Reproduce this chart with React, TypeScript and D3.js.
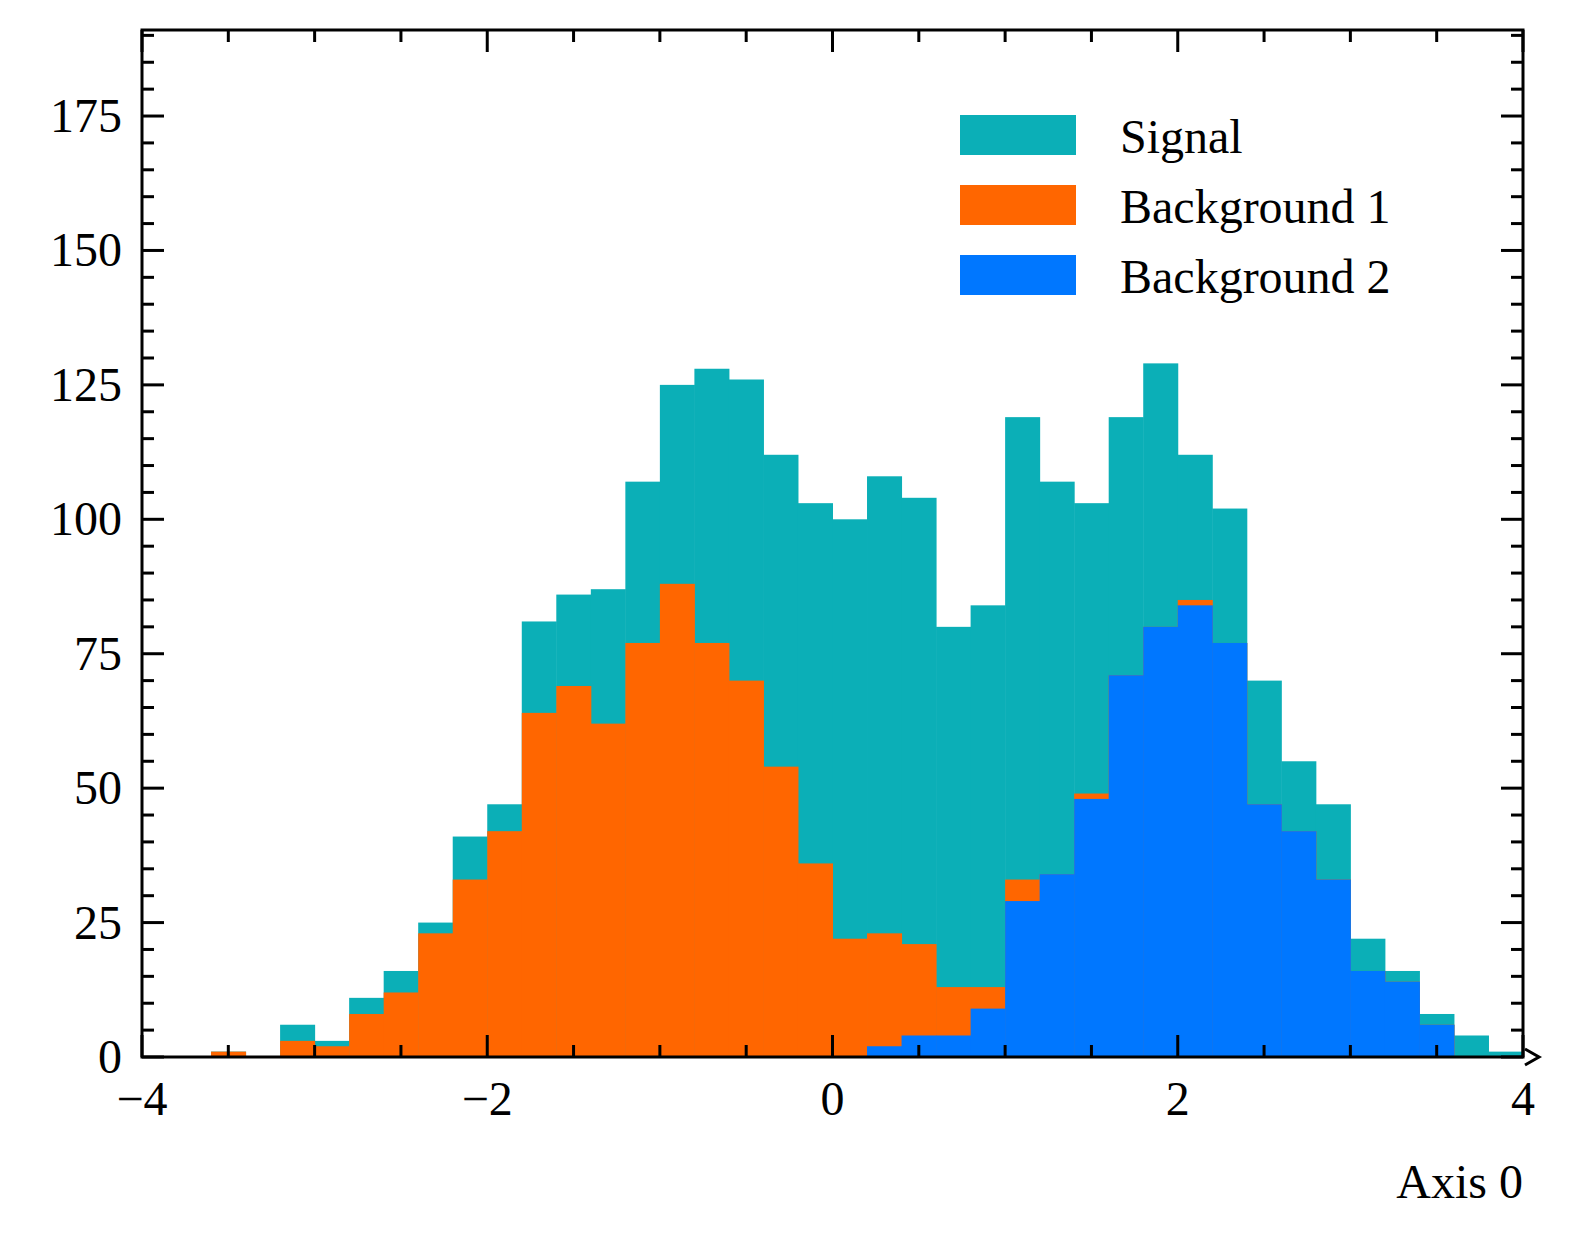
import * as React from 'react';
import * as d3 from 'd3';

// bin edges -4..4, width 0.2
const binStart = -4;
const binWidth = 0.2;
// stacked tops
const blueTop = [0,0,0,0,0,0,0,0,0,0,0,0,0,0,0,0,0,0,0,0,0,2,4,4,9,29,34,48,71,80,84,77,47,42,33,16,14,6,0,0];
const orangeTop = [0,0,1,0,3,2,8,12,23,33,42,64,69,62,77,88,77,70,54,36,22,23,21,13,13,33,34,49,71,80,85,77,47,42,33,16,14,6,0,0];
const totalTop = [0,0,1,0,6,3,11,16,25,41,47,81,86,87,107,125,128,126,112,103,100,108,104,80,84,119,107,103,119,129,112,102,70,55,47,22,16,8,4,1];

const seriesNames = ['Signal', 'Background 1', 'Background 2'];
const seriesColors = ['#0bafb7', '#ff6600', '#0077ff'];
const xTicks = [-4, -2, 0, 2, 4];
const yTicks = [0, 25, 50, 75, 100, 125, 150, 175];

const App: React.FC = () => {
  const width = 1584, height = 1257;
  const left = 142, right = 1523, top = 30, bottom = 1057;
  const x = d3.scaleLinear().domain([-4, 4]).range([left, right]);
  const y = d3.scaleLinear().domain([0, 191]).range([bottom, top]);
  const font = '"Liberation Serif", "Times New Roman", serif';
  const layers = [totalTop, orangeTop, blueTop];
  const xMinor = d3.range(-4, 4.001, 0.5);
  const yMinor = d3.range(0, 191, 5);

  return (
    <svg width={width} height={height} style={{ position: 'absolute', left: 0, top: 0 }} fontFamily={font}>
      {layers.map((vals, s) => (
        <g key={s} fill={seriesColors[s]}>
          {vals.map((v, i) => v > 0 && (
            <rect key={i}
              x={x(binStart + i * binWidth)}
              width={x(binStart + (i + 1) * binWidth) - x(binStart + i * binWidth) + 0.5}
              y={y(v)} height={y(0) - y(v)} />
          ))}
        </g>
      ))}
      <g stroke="#000" strokeWidth={3}>
        {xMinor.map((t, i) => {
          const major = xTicks.includes(t);
          const L = major ? 22 : 12;
          return <g key={i}>
            <line x1={x(t)} x2={x(t)} y1={bottom} y2={bottom - L} />
            <line x1={x(t)} x2={x(t)} y1={top} y2={top + L} />
          </g>;
        })}
        {yMinor.map((t, i) => {
          const major = yTicks.includes(t);
          const L = major ? 22 : 12;
          return <g key={i}>
            <line y1={y(t)} y2={y(t)} x1={left} x2={left + L} />
            <line y1={y(t)} y2={y(t)} x1={right} x2={right - L} />
          </g>;
        })}
        <rect x={left} y={top} width={right - left} height={bottom - top} fill="none" />
      </g>
      <path d={`M${right + 2},${bottom - 8} L${right + 16},${bottom} L${right + 2},${bottom + 8}`} fill="none" stroke="#000" strokeWidth={3} />
      <g fontSize={48} fill="#000">
        {xTicks.map(t => (
          <text key={t} x={x(t)} y={bottom + 58} textAnchor="middle">{t < 0 ? '\u2212' + Math.abs(t) : t}</text>
        ))}
        {yTicks.map(t => (
          <text key={t} x={left - 20} y={y(t) + 16} textAnchor="end">{t}</text>
        ))}
        <text x={right} y={1198} textAnchor="end">Axis 0</text>
      </g>
      <g fontSize={48}>
        {seriesNames.map((n, i) => (
          <g key={n} transform={`translate(960, ${115 + i * 70})`}>
            <rect width={116} height={40} fill={seriesColors[i]} />
            <text x={160} y={38}>{n}</text>
          </g>
        ))}
      </g>
    </svg>
  );
};

export default App;
